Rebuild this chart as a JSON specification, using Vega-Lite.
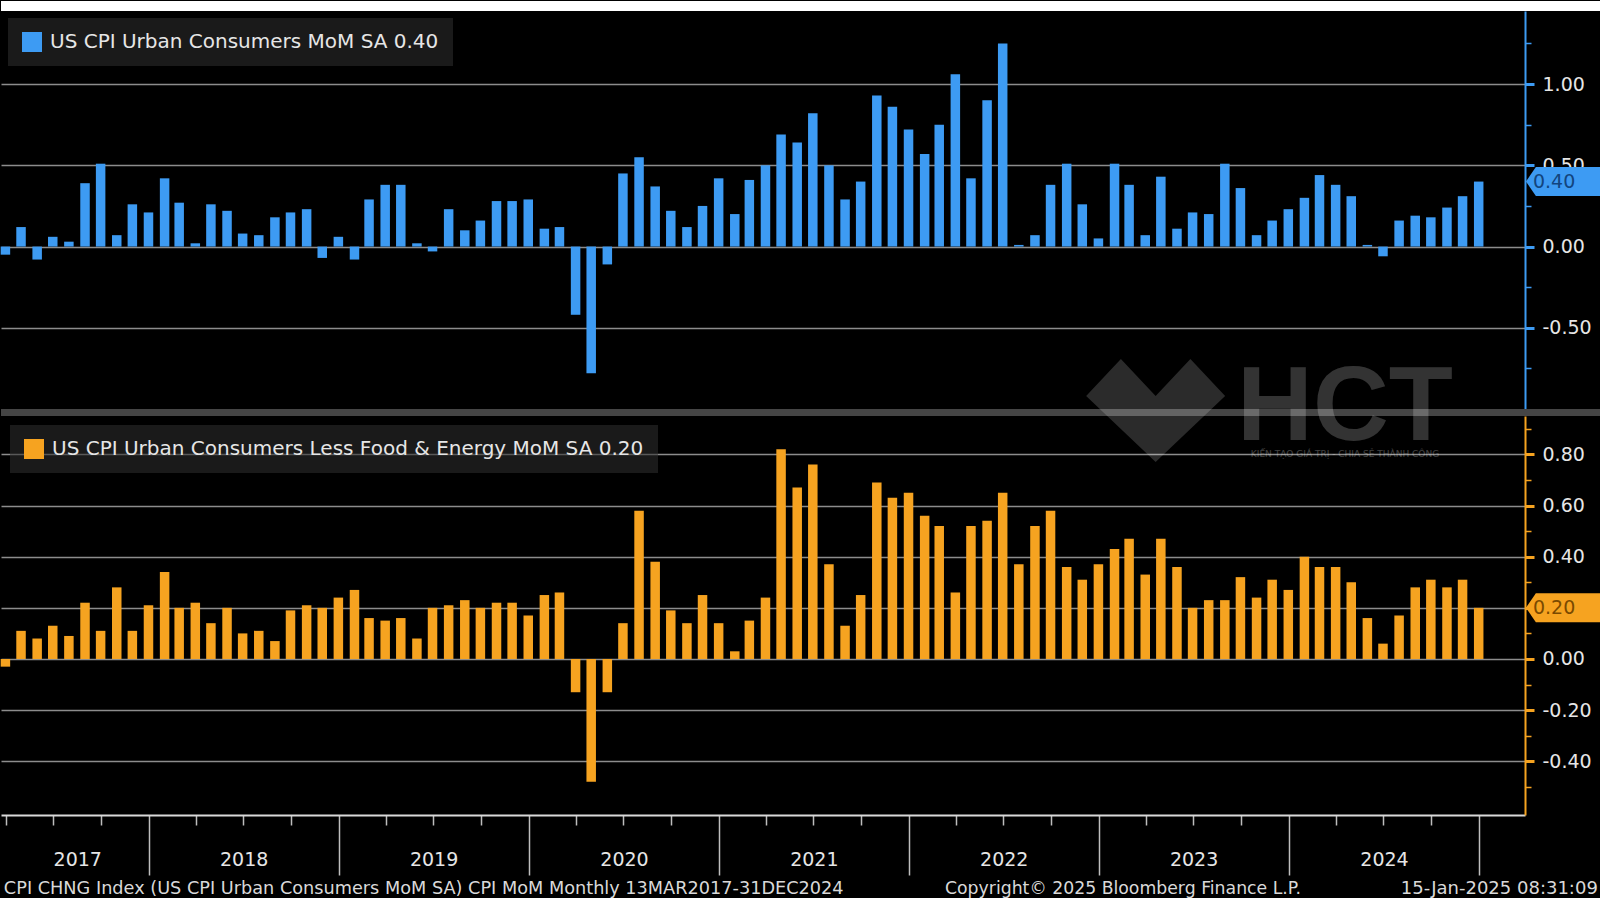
{
  "$schema": "https://vega.github.io/schema/vega-lite/v6.json",
  "background": "black",
  "padding": 0,
  "spacing": 0,
  "bounds": "flush",
  "config": {"view": {"stroke": null}, "font": "DejaVu Sans", "scale": {"continuousPadding": 0}},
  "datasets": {
    "m": [
      {"d":"2017-03-31","cpi":-0.05,"core":-0.03},{"d":"2017-04-30","cpi":0.12,"core":0.11},{"d":"2017-05-31","cpi":-0.08,"core":0.08},{"d":"2017-06-30","cpi":0.06,"core":0.13},{"d":"2017-07-31","cpi":0.03,"core":0.09},{"d":"2017-08-31","cpi":0.39,"core":0.22},{"d":"2017-09-30","cpi":0.51,"core":0.11},{"d":"2017-10-31","cpi":0.07,"core":0.28},{"d":"2017-11-30","cpi":0.26,"core":0.11},{"d":"2017-12-31","cpi":0.21,"core":0.21},
      {"d":"2018-01-31","cpi":0.42,"core":0.34},{"d":"2018-02-28","cpi":0.27,"core":0.20},{"d":"2018-03-31","cpi":0.02,"core":0.22},{"d":"2018-04-30","cpi":0.26,"core":0.14},{"d":"2018-05-31","cpi":0.22,"core":0.20},{"d":"2018-06-30","cpi":0.08,"core":0.10},{"d":"2018-07-31","cpi":0.07,"core":0.11},{"d":"2018-08-31","cpi":0.18,"core":0.07},{"d":"2018-09-30","cpi":0.21,"core":0.19},{"d":"2018-10-31","cpi":0.23,"core":0.21},{"d":"2018-11-30","cpi":-0.07,"core":0.20},{"d":"2018-12-31","cpi":0.06,"core":0.24},
      {"d":"2019-01-31","cpi":-0.08,"core":0.27},{"d":"2019-02-28","cpi":0.29,"core":0.16},{"d":"2019-03-31","cpi":0.38,"core":0.15},{"d":"2019-04-30","cpi":0.38,"core":0.16},{"d":"2019-05-31","cpi":0.02,"core":0.08},{"d":"2019-06-30","cpi":-0.03,"core":0.20},{"d":"2019-07-31","cpi":0.23,"core":0.21},{"d":"2019-08-31","cpi":0.10,"core":0.23},{"d":"2019-09-30","cpi":0.16,"core":0.20},{"d":"2019-10-31","cpi":0.28,"core":0.22},{"d":"2019-11-30","cpi":0.28,"core":0.22},{"d":"2019-12-31","cpi":0.29,"core":0.17},
      {"d":"2020-01-31","cpi":0.11,"core":0.25},{"d":"2020-02-29","cpi":0.12,"core":0.26},{"d":"2020-03-31","cpi":-0.42,"core":-0.13},{"d":"2020-04-30","cpi":-0.78,"core":-0.48},{"d":"2020-05-31","cpi":-0.11,"core":-0.13},{"d":"2020-06-30","cpi":0.45,"core":0.14},{"d":"2020-07-31","cpi":0.55,"core":0.58},{"d":"2020-08-31","cpi":0.37,"core":0.38},{"d":"2020-09-30","cpi":0.22,"core":0.19},{"d":"2020-10-31","cpi":0.12,"core":0.14},{"d":"2020-11-30","cpi":0.25,"core":0.25},{"d":"2020-12-31","cpi":0.42,"core":0.14},
      {"d":"2021-01-31","cpi":0.20,"core":0.03},{"d":"2021-02-28","cpi":0.41,"core":0.15},{"d":"2021-03-31","cpi":0.50,"core":0.24},{"d":"2021-04-30","cpi":0.69,"core":0.82},{"d":"2021-05-31","cpi":0.64,"core":0.67},{"d":"2021-06-30","cpi":0.82,"core":0.76},{"d":"2021-07-31","cpi":0.50,"core":0.37},{"d":"2021-08-31","cpi":0.29,"core":0.13},{"d":"2021-09-30","cpi":0.40,"core":0.25},{"d":"2021-10-31","cpi":0.93,"core":0.69},{"d":"2021-11-30","cpi":0.86,"core":0.63},{"d":"2021-12-31","cpi":0.72,"core":0.65},
      {"d":"2022-01-31","cpi":0.57,"core":0.56},{"d":"2022-02-28","cpi":0.75,"core":0.52},{"d":"2022-03-31","cpi":1.06,"core":0.26},{"d":"2022-04-30","cpi":0.42,"core":0.52},{"d":"2022-05-31","cpi":0.90,"core":0.54},{"d":"2022-06-30","cpi":1.25,"core":0.65},{"d":"2022-07-31","cpi":0.01,"core":0.37},{"d":"2022-08-31","cpi":0.07,"core":0.52},{"d":"2022-09-30","cpi":0.38,"core":0.58},{"d":"2022-10-31","cpi":0.51,"core":0.36},{"d":"2022-11-30","cpi":0.26,"core":0.31},{"d":"2022-12-31","cpi":0.05,"core":0.37},
      {"d":"2023-01-31","cpi":0.51,"core":0.43},{"d":"2023-02-28","cpi":0.38,"core":0.47},{"d":"2023-03-31","cpi":0.07,"core":0.33},{"d":"2023-04-30","cpi":0.43,"core":0.47},{"d":"2023-05-31","cpi":0.11,"core":0.36},{"d":"2023-06-30","cpi":0.21,"core":0.20},{"d":"2023-07-31","cpi":0.20,"core":0.23},{"d":"2023-08-31","cpi":0.51,"core":0.23},{"d":"2023-09-30","cpi":0.36,"core":0.32},{"d":"2023-10-31","cpi":0.07,"core":0.24},{"d":"2023-11-30","cpi":0.16,"core":0.31},{"d":"2023-12-31","cpi":0.23,"core":0.27},
      {"d":"2024-01-31","cpi":0.30,"core":0.40},{"d":"2024-02-29","cpi":0.44,"core":0.36},{"d":"2024-03-31","cpi":0.38,"core":0.36},{"d":"2024-04-30","cpi":0.31,"core":0.30},{"d":"2024-05-31","cpi":0.01,"core":0.16},{"d":"2024-06-30","cpi":-0.06,"core":0.06},{"d":"2024-07-31","cpi":0.16,"core":0.17},{"d":"2024-08-31","cpi":0.19,"core":0.28},{"d":"2024-09-30","cpi":0.18,"core":0.31},{"d":"2024-10-31","cpi":0.24,"core":0.28},{"d":"2024-11-30","cpi":0.31,"core":0.31},{"d":"2024-12-31","cpi":0.40,"core":0.20}
    ]
  },
  "resolve": {"scale": {"color": "independent"}, "legend": {"color": "independent"}},
  "vconcat": [
    {
      "width": 1600, "height": 10,
      "view": {"fill": "white", "stroke": null},
      "data": {"values": [{}]},
      "mark": {"type": "text"},
      "encoding": {"text": {"value": ""}}
    },
    {
      "width": 1524, "height": 398,
      "resolve": {"axis": {"x": "independent", "y": "independent"}},
      "layer": [
        {
          "data": {"name": "m"},
          "mark": {"type": "bar", "width": 9.5, "color": "#3d9bf3"},
          "encoding": {
            "x": {"field": "d", "type": "temporal", "axis": null,
              "scale": {"type": "utc", "padding": 0, "domain": [{"year":2017,"month":3,"date":22,"hours":12,"utc":true},{"year":2025,"month":3,"date":30,"utc":true}]}},
            "y": {"field": "cpi", "type": "quantitative",
              "scale": {"domain": [-1.0, 1.45], "nice": false, "zero": false, "padding": 0},
              "axis": {"orient": "right", "title": null,
                "values": [1.25, 1, 0.75, 0.5, 0.25, 0, -0.25, -0.5, -0.75],
                "labelExpr": "abs(datum.value*2-round(datum.value*2))<0.001 ? replace(format(datum.value,'.2f'),'−','-') : ''",
                "labelOverlap": false, "labelFlush": false,
                "domainColor": "#3d9bf3", "domainWidth": 2, "tickColor": "#3d9bf3",
                "tickSize": {"condition": {"test": "abs(datum.value*2-round(datum.value*2))<0.001", "value": 9}, "value": 6},
                "tickWidth": {"condition": {"test": "abs(datum.value*2-round(datum.value*2))<0.001", "value": 3}, "value": 1.5},
                "grid": true, "gridColor": "#8c8c8c", "gridWidth": 1.5,
                "gridOpacity": {"condition": {"test": "abs(datum.value*2-round(datum.value*2))<0.001", "value": 1}, "value": 0},
                "labelColor": "#e6e6e6", "labelFontSize": 19, "labelFont": "DejaVu Sans", "labelPadding": 8}},
            "color": {"datum": "US CPI Urban Consumers MoM SA 0.40", "type": "nominal",
              "scale": {"range": ["#3d9bf3"]},
              "legend": {"orient": "top-left", "offset": 7, "padding": 14, "fillColor": "rgba(48,48,48,0.55)", "title": null,
                "symbolType": "square", "symbolSize": 400, "symbolStrokeWidth": 0, "symbolOpacity": 1,
                "labelFontSize": 20, "labelFont": "DejaVu Sans", "labelColor": "#e6e6e6", "labelLimit": 2000, "labelOffset": 8}}
          }
        },
        {
          "data": {"values": [{}]},
          "mark": {"type": "point", "shape": "M -1 0 L -0.733 -0.392 L 1 -0.392 L 1 0.392 L -0.733 0.392 Z", "size": 5476, "filled": true, "color": "#3d9bf3", "opacity": 1, "strokeWidth": 0, "clip": false},
          "encoding": {
            "x": {"datum": {"year":2025,"month":6,"date":11,"utc":true}, "type": "temporal", "axis": null,
              "scale": {"type": "utc", "padding": 0, "domain": [{"year":2017,"month":3,"date":22,"hours":12,"utc":true},{"year":2025,"month":3,"date":30,"utc":true}]}},
            "y": {"datum": 0.4, "type": "quantitative", "axis": null, "scale": {"domain": [-1.0, 1.45], "nice": false, "zero": false, "padding": 0}}
          }
        },
        {
          "data": {"values": [{}]},
          "mark": {"type": "text", "font": "DejaVu Sans", "fontSize": 19, "color": "#12457e", "align": "center", "baseline": "middle", "clip": false},
          "encoding": {
            "x": {"datum": {"year":2025,"month":5,"date":25,"utc":true}, "type": "temporal", "axis": null,
              "scale": {"type": "utc", "padding": 0, "domain": [{"year":2017,"month":3,"date":22,"hours":12,"utc":true},{"year":2025,"month":3,"date":30,"utc":true}]}},
            "y": {"datum": 0.4, "type": "quantitative", "axis": null, "scale": {"domain": [-1.0, 1.45], "nice": false, "zero": false, "padding": 0}},
            "text": {"value": "0.40"}
          }
        }
      ]
    },
    {
      "width": 1600, "height": 7,
      "view": {"fill": "#454545", "stroke": null},
      "data": {"values": [{}]},
      "mark": {"type": "text"},
      "encoding": {"text": {"value": ""}}
    },
    {
      "width": 1524, "height": 399,
      "resolve": {"axis": {"x": "independent", "y": "independent"}},
      "layer": [
        {
          "data": {"name": "m"},
          "mark": {"type": "bar", "width": 9.5, "color": "#f6a320"},
          "encoding": {
            "x": {"field": "d", "type": "temporal",
              "scale": {"type": "utc", "padding": 0, "domain": [{"year":2017,"month":3,"date":22,"hours":12,"utc":true},{"year":2025,"month":3,"date":30,"utc":true}]},
              "axis": {"orient": "bottom", "title": null, "labels": false, "grid": false,
                "domainColor": "#d9d9d9", "domainWidth": 2, "tickColor": "#bdbdbd", "tickWidth": 1.5,
                "tickSize": {"condition": {"test": "utcmonth(datum.value) == 0", "value": 60}, "value": 10},
                "values": [
                  {"year":2017,"month":4,"date":1,"utc":true},{"year":2017,"month":7,"date":1,"utc":true},{"year":2017,"month":10,"date":1,"utc":true},
                  {"year":2018,"month":1,"date":1,"utc":true},{"year":2018,"month":4,"date":1,"utc":true},{"year":2018,"month":7,"date":1,"utc":true},{"year":2018,"month":10,"date":1,"utc":true},
                  {"year":2019,"month":1,"date":1,"utc":true},{"year":2019,"month":4,"date":1,"utc":true},{"year":2019,"month":7,"date":1,"utc":true},{"year":2019,"month":10,"date":1,"utc":true},
                  {"year":2020,"month":1,"date":1,"utc":true},{"year":2020,"month":4,"date":1,"utc":true},{"year":2020,"month":7,"date":1,"utc":true},{"year":2020,"month":10,"date":1,"utc":true},
                  {"year":2021,"month":1,"date":1,"utc":true},{"year":2021,"month":4,"date":1,"utc":true},{"year":2021,"month":7,"date":1,"utc":true},{"year":2021,"month":10,"date":1,"utc":true},
                  {"year":2022,"month":1,"date":1,"utc":true},{"year":2022,"month":4,"date":1,"utc":true},{"year":2022,"month":7,"date":1,"utc":true},{"year":2022,"month":10,"date":1,"utc":true},
                  {"year":2023,"month":1,"date":1,"utc":true},{"year":2023,"month":4,"date":1,"utc":true},{"year":2023,"month":7,"date":1,"utc":true},{"year":2023,"month":10,"date":1,"utc":true},
                  {"year":2024,"month":1,"date":1,"utc":true},{"year":2024,"month":4,"date":1,"utc":true},{"year":2024,"month":7,"date":1,"utc":true},{"year":2024,"month":10,"date":1,"utc":true},
                  {"year":2025,"month":1,"date":1,"utc":true}
                ]}},
            "y": {"field": "core", "type": "quantitative",
              "scale": {"domain": [-0.61, 0.95], "nice": false, "zero": false, "padding": 0},
              "axis": {"orient": "right", "title": null,
                "values": [0.9, 0.8, 0.7, 0.6, 0.5, 0.4, 0.3, 0.2, 0.1, 0, -0.1, -0.2, -0.3, -0.4, -0.5],
                "labelExpr": "abs(datum.value*5-round(datum.value*5))<0.001 && abs(datum.value-0.2)>0.001 ? replace(format(datum.value,'.2f'),'−','-') : ''",
                "labelOverlap": false, "labelFlush": false,
                "domainColor": "#f6a320", "domainWidth": 2, "tickColor": "#f6a320",
                "tickSize": {"condition": {"test": "abs(datum.value*5-round(datum.value*5))<0.001", "value": 9}, "value": 6},
                "tickWidth": {"condition": {"test": "abs(datum.value*5-round(datum.value*5))<0.001", "value": 3}, "value": 1.5},
                "grid": true, "gridColor": "#8c8c8c", "gridWidth": 1.5,
                "gridOpacity": {"condition": {"test": "abs(datum.value*5-round(datum.value*5))<0.001", "value": 1}, "value": 0},
                "labelColor": "#e6e6e6", "labelFontSize": 19, "labelFont": "DejaVu Sans", "labelPadding": 8}},
            "color": {"datum": "US CPI Urban Consumers Less Food & Energy MoM SA 0.20", "type": "nominal",
              "scale": {"range": ["#f6a320"]},
              "legend": {"orient": "top-left", "offset": 9, "padding": 14, "fillColor": "rgba(48,48,48,0.55)", "title": null,
                "symbolType": "square", "symbolSize": 400, "symbolStrokeWidth": 0, "symbolOpacity": 1,
                "labelFontSize": 20, "labelFont": "DejaVu Sans", "labelColor": "#e6e6e6", "labelLimit": 2000, "labelOffset": 8}}
          }
        },
        {
          "data": {"values": [{}]},
          "mark": {"type": "point", "shape": "M -1 0 L -0.733 -0.392 L 1 -0.392 L 1 0.392 L -0.733 0.392 Z", "size": 5476, "filled": true, "color": "#f6a320", "opacity": 1, "strokeWidth": 0, "clip": false},
          "encoding": {
            "x": {"datum": {"year":2025,"month":6,"date":11,"utc":true}, "type": "temporal", "axis": null,
              "scale": {"type": "utc", "padding": 0, "domain": [{"year":2017,"month":3,"date":22,"hours":12,"utc":true},{"year":2025,"month":3,"date":30,"utc":true}]}},
            "y": {"datum": 0.2, "type": "quantitative", "axis": null, "scale": {"domain": [-0.61, 0.95], "nice": false, "zero": false, "padding": 0}}
          }
        },
        {
          "data": {"values": [{}]},
          "mark": {"type": "text", "font": "DejaVu Sans", "fontSize": 19, "color": "#7a4a00", "align": "center", "baseline": "middle", "clip": false},
          "encoding": {
            "x": {"datum": {"year":2025,"month":5,"date":25,"utc":true}, "type": "temporal", "axis": null,
              "scale": {"type": "utc", "padding": 0, "domain": [{"year":2017,"month":3,"date":22,"hours":12,"utc":true},{"year":2025,"month":3,"date":30,"utc":true}]}},
            "y": {"datum": 0.2, "type": "quantitative", "axis": null, "scale": {"domain": [-0.61, 0.95], "nice": false, "zero": false, "padding": 0}},
            "text": {"value": "0.20"}
          }
        },
        {
          "data": {"values": [{}]},
          "mark": {"type": "point", "shape": "M -1 -0.21 L -0.5 -0.74 L 0 -0.21 L 0.5 -0.74 L 1 -0.21 L 0 0.74 Z", "size": 19321, "filled": true, "color": "white", "opacity": 0.17, "strokeWidth": 0, "clip": false},
          "encoding": {
            "x": {"datum": {"year":2023,"month":4,"date":20,"utc":true}, "type": "temporal", "axis": null,
              "scale": {"type": "utc", "padding": 0, "domain": [{"year":2017,"month":3,"date":22,"hours":12,"utc":true},{"year":2025,"month":3,"date":30,"utc":true}]}},
            "y": {"datum": 0.9715, "type": "quantitative", "axis": null, "scale": {"domain": [-0.61, 0.95], "nice": false, "zero": false, "padding": 0}}
          }
        },
        {
          "data": {"values": [{}]},
          "mark": {"type": "text", "font": "Liberation Sans", "fontWeight": "bold", "fontSize": 105, "color": "white", "opacity": 0.2, "align": "center", "baseline": "alphabetic", "clip": false},
          "encoding": {
            "x": {"datum": {"year":2024,"month":4,"date":18,"utc":true}, "type": "temporal", "axis": null,
              "scale": {"type": "utc", "padding": 0, "domain": [{"year":2017,"month":3,"date":22,"hours":12,"utc":true},{"year":2025,"month":3,"date":30,"utc":true}]}},
            "y": {"datum": 0.856, "type": "quantitative", "axis": null, "scale": {"domain": [-0.61, 0.95], "nice": false, "zero": false, "padding": 0}},
            "text": {"value": "HCT"}
          }
        },
        {
          "data": {"values": [{}]},
          "mark": {"type": "text", "font": "DejaVu Sans", "fontSize": 9, "color": "white", "opacity": 0.25, "align": "center", "baseline": "middle", "clip": false},
          "encoding": {
            "x": {"datum": {"year":2024,"month":4,"date":18,"utc":true}, "type": "temporal", "axis": null,
              "scale": {"type": "utc", "padding": 0, "domain": [{"year":2017,"month":3,"date":22,"hours":12,"utc":true},{"year":2025,"month":3,"date":30,"utc":true}]}},
            "y": {"datum": 0.8, "type": "quantitative", "axis": null, "scale": {"domain": [-0.61, 0.95], "nice": false, "zero": false, "padding": 0}},
            "text": {"value": "KIẾN TẠO GIÁ TRỊ - CHIA SẺ THÀNH CÔNG"}
          }
        },
        {
          "data": {"values": [{}]},
          "mark": {"type": "text", "font": "DejaVu Sans", "fontSize": 17.7, "color": "#d9d9d9", "align": "left", "baseline": "middle", "clip": false},
          "encoding": {
            "x": {"datum": {"year":2017,"month":3,"date":28,"utc":true}, "type": "temporal",
              "scale": {"type": "utc", "padding": 0, "domain": [{"year":2017,"month":3,"date":22,"hours":12,"utc":true},{"year":2025,"month":3,"date":30,"utc":true}]},
              "axis": {"orient": "bottom", "title": null, "ticks": false, "tickSize": 0, "domain": false, "grid": false,
                "format": "%Y", "labelPadding": 35, "labelFontSize": 19, "labelFont": "DejaVu Sans", "labelColor": "#e6e6e6", "labelOverlap": false, "labelFlush": false,
                "values": [
                  {"year":2017,"month":8,"date":16,"utc":true},{"year":2018,"month":7,"date":2,"utc":true},{"year":2019,"month":7,"date":2,"utc":true},{"year":2020,"month":7,"date":2,"utc":true},
                  {"year":2021,"month":7,"date":2,"utc":true},{"year":2022,"month":7,"date":2,"utc":true},{"year":2023,"month":7,"date":2,"utc":true},{"year":2024,"month":7,"date":2,"utc":true}
                ]}},
            "y": {"datum": -0.898, "type": "quantitative", "axis": null, "scale": {"domain": [-0.61, 0.95], "nice": false, "zero": false, "padding": 0}},
            "text": {"value": "CPI CHNG Index (US CPI Urban Consumers MoM SA) CPI MoM  Monthly 13MAR2017-31DEC2024"}
          }
        },
        {
          "data": {"values": [{}]},
          "mark": {"type": "text", "font": "DejaVu Sans", "fontSize": 17.3, "color": "#d9d9d9", "align": "left", "baseline": "middle", "clip": false},
          "encoding": {
            "x": {"datum": {"year":2022,"month":3,"date":11,"utc":true}, "type": "temporal", "axis": null,
              "scale": {"type": "utc", "padding": 0, "domain": [{"year":2017,"month":3,"date":22,"hours":12,"utc":true},{"year":2025,"month":3,"date":30,"utc":true}]}},
            "y": {"datum": -0.898, "type": "quantitative", "axis": null, "scale": {"domain": [-0.61, 0.95], "nice": false, "zero": false, "padding": 0}},
            "text": {"value": "Copyright© 2025 Bloomberg Finance L.P."}
          }
        },
        {
          "data": {"values": [{}]},
          "mark": {"type": "text", "font": "DejaVu Sans", "fontSize": 18, "color": "#d9d9d9", "align": "right", "baseline": "middle", "clip": false},
          "encoding": {
            "x": {"datum": {"year":2025,"month":8,"date":17,"utc":true}, "type": "temporal", "axis": null,
              "scale": {"type": "utc", "padding": 0, "domain": [{"year":2017,"month":3,"date":22,"hours":12,"utc":true},{"year":2025,"month":3,"date":30,"utc":true}]}},
            "y": {"datum": -0.898, "type": "quantitative", "axis": null, "scale": {"domain": [-0.61, 0.95], "nice": false, "zero": false, "padding": 0}},
            "text": {"value": "15-Jan-2025 08:31:09"}
          }
        }
      ]
    }
  ]
}
